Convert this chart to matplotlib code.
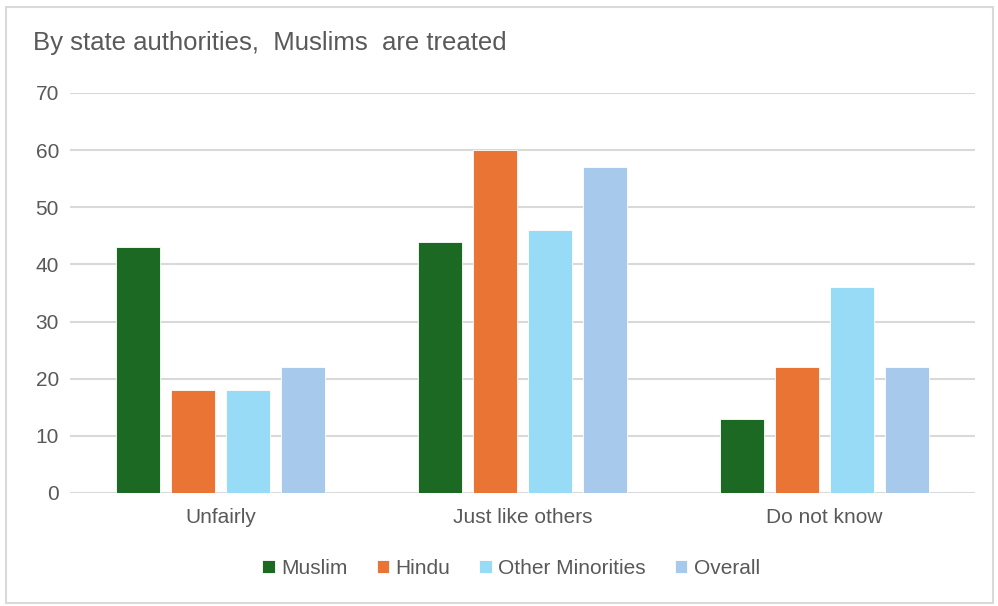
import matplotlib.pyplot as plt
import numpy as np
from matplotlib.patches import Rectangle

categories = ["Unfairly", "Just like others", "Do not know"]
series = ["Muslim", "Hindu", "Other Minorities", "Overall"]
muslim = [43, 44, 13]
hindu = [18, 60, 22]
other_minorities = [18, 46, 36]
overall = [22, 57, 22]
values = [muslim, hindu, other_minorities, overall]
colors = ["#1b6923", "#ea7433", "#97dbf7", "#a7caec"]

plt.rcParams["font.family"] = ["Liberation Sans", "DejaVu Sans"]
text_color = "#595959"

fig = plt.figure(figsize=(9.98, 6.06), dpi=100)
W, H = 998, 606
ax = fig.add_axes([70 / W, 1 - 493 / H, 905 / W, 400 / H])

x = np.arange(len(categories))
step = 0.182
width = 0.146
for i, (name, vals) in enumerate(zip(series, values)):
    offset = (i - 1.5) * step
    ax.bar(x + offset, vals, width, color=colors[i], label=name,
           edgecolor="white", linewidth=0.6, zorder=3)

ax.set_xlim(-0.5, 2.5)
ax.set_ylim(0, 70)
ax.set_yticks(range(0, 71, 10))
ax.set_xticks(x)
ax.set_xticklabels(categories)
ax.grid(axis="y", color="#d9d9d9", linewidth=1.5, zorder=0)
for s in ax.spines.values():
    s.set_visible(False)
ax.tick_params(axis="both", length=0, colors=text_color, labelsize=15)
ax.tick_params(axis="y", pad=8)
ax.tick_params(axis="x", pad=11)

fig.text(33 / W, 1 - 43 / H, "By state authorities,  Muslims  are treated",
         fontsize=18.5, color=text_color, va="center", ha="left")

leg = fig.legend(loc="center", bbox_to_anchor=(511 / W, 1 - 568 / H), ncol=4,
                 frameon=False, fontsize=15, handlelength=0.6, handleheight=0.6,
                 handletextpad=0.3, columnspacing=1.4)
for t in leg.get_texts():
    t.set_color(text_color)

fig.patches.append(Rectangle((6 / W, 1 - 603 / H), 987 / W, 596 / H,
                             transform=fig.transFigure, fill=False,
                             edgecolor="#d9d9d9", linewidth=1.5))

fig.savefig("out.png", dpi=100)
